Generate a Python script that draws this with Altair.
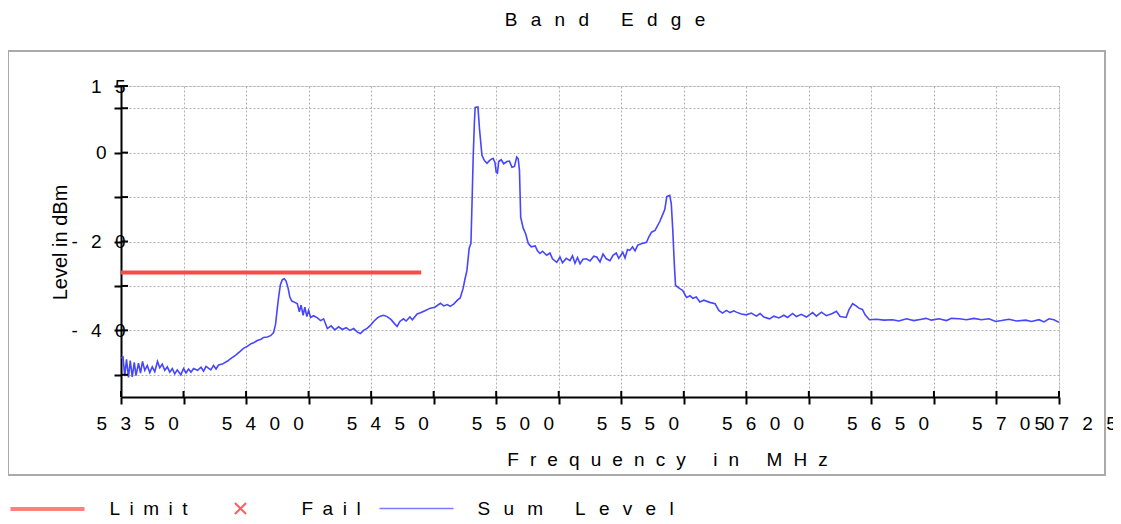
import altair as alt
import pandas as pd

# ---------------- data ----------------
freq = [
    5350.0, 5350.8, 5351.5, 5352.2, 5353.0, 5353.7, 5354.5, 5355.3, 5356.0, 5357.0,
    5357.8, 5358.6, 5359.5, 5360.5, 5361.5, 5362.5, 5363.5, 5364.6, 5365.5, 5366.5,
    5367.5, 5368.5, 5369.5, 5370.5, 5371.5, 5372.5, 5373.9, 5375.0, 5376.0, 5377.0,
    5378.0, 5379.0, 5380.6, 5382.0, 5383.0, 5384.0, 5385.9, 5387.0, 5388.0, 5389.0,
    5390.5, 5392.6, 5394.0, 5396.0, 5397.5, 5399.1, 5400.5, 5402.0, 5403.0, 5404.5,
    5406.0, 5407.0, 5408.5, 5409.8, 5411.0, 5411.8, 5412.5, 5413.0, 5413.7, 5414.5,
    5415.3, 5416.0, 5416.8, 5417.5, 5418.3, 5419.5, 5420.5, 5421.3, 5422.0, 5422.8,
    5423.5, 5424.3, 5425.0, 5425.8, 5427.0, 5428.5, 5429.8, 5431.0, 5432.5, 5434.0,
    5435.5, 5437.0, 5438.5, 5440.0, 5441.5, 5443.0, 5444.5, 5445.7, 5447.0, 5448.5,
    5449.7, 5451.0, 5452.5, 5453.7, 5455.0, 5456.4, 5458.0, 5459.5, 5460.4, 5461.5,
    5462.9, 5464.0, 5465.5, 5466.5, 5468.4, 5470.0, 5471.5, 5473.7, 5475.5, 5477.7,
    5479.0, 5480.5, 5481.6, 5483.0, 5484.5, 5485.6, 5486.8, 5487.5, 5488.3, 5489.2,
    5489.9, 5490.4, 5490.8, 5491.3, 5491.6, 5492.7, 5493.3, 5494.3, 5495.3, 5496.3,
    5497.3, 5498.2, 5498.8, 5499.5, 5500.0, 5500.5, 5501.0, 5502.0, 5503.0, 5504.3,
    5505.3, 5506.3, 5507.3, 5508.2, 5508.8, 5509.3, 5509.8, 5510.8, 5511.8, 5512.8,
    5514.0, 5515.6, 5516.5, 5517.5, 5518.5, 5520.2, 5521.5, 5522.5, 5524.2, 5525.5,
    5526.5, 5528.0, 5529.5, 5530.5, 5531.5, 5532.5, 5533.5, 5534.7, 5536.0, 5537.5,
    5539.0, 5540.2, 5541.5, 5542.7, 5544.0, 5545.5, 5546.7, 5548.0, 5549.0, 5550.6,
    5551.5, 5552.5, 5553.4, 5554.5, 5555.5, 5556.6, 5558.0, 5560.1, 5561.0, 5562.1,
    5563.5, 5565.4, 5566.5, 5567.4, 5568.2, 5569.4, 5570.0, 5570.6, 5571.2, 5571.7,
    5573.4, 5574.5, 5576.1, 5577.5, 5578.6, 5580.0, 5581.4, 5583.0, 5585.4, 5587.5,
    5589.0, 5590.5, 5592.0, 5593.5, 5595.0, 5596.0, 5598.0, 5600.0, 5602.0, 5604.0,
    5605.5, 5607.0, 5609.3, 5611.0, 5613.0, 5615.0, 5616.5, 5618.5, 5620.0, 5622.0,
    5624.0, 5626.5, 5628.0, 5630.0, 5632.0, 5634.4, 5636.0, 5637.5, 5639.9, 5641.0,
    5642.5, 5643.9, 5645.0, 5646.4, 5647.5, 5649.2, 5652.0, 5655.0, 5658.4, 5661.0,
    5664.0, 5667.0, 5670.0, 5671.8, 5674.0, 5677.0, 5680.0, 5682.0, 5685.1, 5688.0,
    5691.0, 5694.0, 5697.0, 5699.7, 5702.0, 5705.0, 5708.0, 5711.7, 5714.0, 5717.0,
    5719.0, 5721.0, 5723.0, 5725.0,
]
level = [
    -46.2, -46.0, -50.3, -46.5, -50.6, -46.8, -50.5, -47.2, -50.2, -47.4,
    -49.6, -47.0, -49.0, -47.9, -49.5, -48.2, -49.3, -47.0, -48.4, -47.6,
    -49.0, -48.2, -49.4, -48.6, -49.8, -48.9, -50.0, -48.6, -49.6, -48.7,
    -49.4, -48.6, -49.0, -48.3, -49.2, -48.1, -48.9, -47.9, -48.7, -47.8,
    -47.6, -46.9, -46.3, -45.5, -44.8, -44.0, -43.6, -43.0, -42.8, -42.3,
    -42.0, -41.6, -41.5, -41.2, -40.5, -38.6, -35.0, -32.6, -29.8, -28.6,
    -28.4, -28.9, -30.5, -32.5, -33.4, -33.7, -34.0, -35.8, -34.3, -36.6,
    -34.8, -36.9, -35.5, -37.1, -36.7, -37.2, -37.8, -37.4, -39.6, -39.0,
    -39.9, -39.2, -39.8, -39.4, -40.0, -39.6, -40.4, -40.7, -40.0, -39.5,
    -38.9, -38.0, -37.2, -36.8, -36.6, -36.9, -37.6, -38.6, -39.1, -38.0,
    -37.4, -37.9, -37.0, -37.6, -36.3, -36.0, -35.6, -35.0, -34.8, -33.9,
    -34.5, -34.2, -34.6, -34.1, -33.2, -32.7, -30.5, -28.5, -26.5, -21.5,
    -20.4, -10.0, -1.0, 7.0, 10.2, 10.3, 5.5, -0.6, -1.8, -2.4,
    -1.8, -1.4, -1.3, -2.2, -4.4, -4.6, -2.0, -1.6, -2.5, -2.0,
    -1.9, -3.3, -3.1, -1.0, -1.4, -4.0, -14.6, -17.0, -18.3, -20.4,
    -21.2, -21.0, -22.1, -22.7, -22.2, -23.1, -22.6, -23.9, -24.7, -23.5,
    -24.8, -23.8, -24.3, -23.2, -24.9, -23.6, -25.0, -24.0, -23.9, -24.4,
    -23.3, -23.5, -24.6, -22.8, -23.9, -24.3, -23.1, -22.6, -23.8, -22.4,
    -23.7, -21.8, -22.0, -21.2, -22.1, -20.8, -20.5, -20.2, -19.0, -17.9,
    -17.5, -15.5, -14.0, -12.8, -9.9, -9.6, -11.5, -17.5, -25.0, -29.9,
    -30.6, -31.0, -32.6, -32.2, -32.8, -32.5, -33.6, -33.2, -33.7, -34.0,
    -35.5, -36.1, -35.5, -36.0, -35.6, -35.9, -36.3, -36.5, -36.1, -36.8,
    -36.2, -37.0, -37.4, -36.8, -37.2, -36.6, -37.1, -36.2, -36.9, -36.4,
    -37.0, -36.0, -36.8, -35.9, -36.7, -36.2, -35.7, -36.9, -37.1, -35.4,
    -34.0, -34.5, -35.0, -35.3, -36.5, -37.6, -37.5, -37.7, -37.6, -37.9,
    -37.4, -37.8, -37.5, -37.3, -37.7, -37.4, -37.8, -37.3, -37.4, -37.6,
    -37.3, -37.6, -37.4, -38.0, -37.8, -37.5, -37.9, -37.7, -38.0, -37.6,
    -38.1, -37.4, -37.6, -38.2,
]
limit_freq = [5350, 5470]
limit_level = [-27.0, -27.0]

series_names = ["Limit", "Fail", "Sum Level"]
x_ticks = list(range(5350, 5726, 25))
x_label_values = [5350, 5400, 5450, 5500, 5550, 5600, 5650, 5700, 5725]
y_ticks = [15, 10, 0, -10, -20, -30, -40, -50]
y_label_values = [15, 0, -20, -40]

# ---------------- styling ----------------
FONT = "Liberation Sans"
FS = 19
SEP = "\u2002\u2009"
SEP_NARROW = "\u2002"
SEP_TITLE = "\u2002\u200a"
ZW = "\u200b"
LEAD = ZW + "\u2003\u2002\u2009"
RED = "#ff4848"
FAIL_RED = "#ff1a1a"
BLUE = "#4646ff"
W, H = 938, 311
CROSS = "M-0.15,-0.15L0.15,0.15M-0.15,0.15L0.15,-0.15"


def spaced(s, sep=SEP):
    return sep.join(list(s))


x_expr = " : ".join(
    f"datum.value == {v} ? '{LEAD + spaced(str(v))}'" for v in x_label_values
) + " : ''"


def ylab(v):
    if v == 0:
        return "0\u2003" + ZW
    return spaced(str(v))


y_expr = " : ".join(
    f"datum.value == {v} ? '{ylab(v)}'" for v in y_label_values
) + " : ''"

leg_text = {
    "Limit": spaced("Limit", SEP_NARROW),
    "Fail": spaced("Fail", SEP_NARROW),
    "Sum Level": spaced("Sum Level", SEP),
}
leg_expr = " : ".join(
    f"datum.label == '{n}' ? '{leg_text[n]}'" for n in series_names
) + " : datum.label"

sum_df = pd.DataFrame({"f": freq, "lv": level})
lim_df = pd.DataFrame({"f": limit_freq, "lv": limit_level})
xt_df = pd.DataFrame({"t": x_ticks})
yt_df = pd.DataFrame({"t": y_ticks})
leg_df = pd.DataFrame({"series": series_names, "f": [None] * 3, "lv": [None] * 3})
box_df = pd.DataFrame({"a": [0]})

xscale = alt.Scale(domain=[5350, 5725], nice=False, zero=False)
yscale = alt.Scale(domain=[-55, 15], nice=False, zero=False)

x_axis = alt.Axis(
    values=x_ticks, labelExpr=x_expr, title=spaced("Frequency in MHz", SEP_TITLE),
    grid=True, gridDash=[2, 2], gridColor="#b0b0b0", gridWidth=1,
    domainColor="black", domainWidth=2, tickColor="black", tickWidth=2, tickSize=7,
    labelFont=FONT, labelFontSize=FS, labelColor="black", labelAlign="center",
    labelPadding=10, labelOverlap=False, labelFlush=False, labelBound=False,
    titleFont=FONT, titleFontSize=FS, titleFontWeight="normal", titleColor="black",
    titleX=546, titleY=62, titleAlign="center", titleBaseline="middle",
)
y_axis = alt.Axis(
    values=y_ticks, labelExpr=y_expr, title="Level in dBm",
    grid=True, gridDash=[2, 2], gridColor="#b0b0b0", gridWidth=1,
    domainColor="black", domainWidth=2, tickColor="black", tickWidth=2, tickSize=7,
    labelFont=FONT, labelFontSize=FS, labelColor="black", labelPadding=-11,
    labelOverlap=False, labelFlush=False, labelBound=False,
    titleFont=FONT, titleFontSize=20, titleFontWeight="normal", titleColor="black",
    titleX=-61, titleY=156, titleAlign="center", titleBaseline="middle", titleAngle=270,
)

box = alt.Chart(box_df).mark_rect(
    fillOpacity=0, stroke="#aaaaaa", strokeWidth=2
).encode(
    x=alt.value(-113), x2=alt.value(984), y=alt.value(-35), y2=alt.value(389)
)

sum_line = alt.Chart(sum_df).mark_line(color=BLUE, strokeWidth=1.6).encode(
    x=alt.X("f:Q", scale=xscale, axis=x_axis),
    y=alt.Y("lv:Q", scale=yscale, axis=y_axis),
)
lim_line = alt.Chart(lim_df).mark_line(color=RED, strokeWidth=4).encode(
    x=alt.X("f:Q", scale=xscale), y=alt.Y("lv:Q", scale=yscale)
)
x_inner = alt.Chart(xt_df).mark_rule(color="black", strokeWidth=2).encode(
    x=alt.X("t:Q", scale=xscale), y=alt.value(H - 6), y2=alt.value(H)
)
y_inner = alt.Chart(yt_df).mark_rule(color="black", strokeWidth=2).encode(
    y=alt.Y("t:Q", scale=yscale), x=alt.value(0), x2=alt.value(7)
)

leg = alt.Legend(
    title=None, orient="none", legendX=-112.5, legendY=384, direction="horizontal",
    labelExpr=leg_expr, labelFont=FONT, labelFontSize=FS, labelColor="black", labelLimit=600,
    labelOffset=23, columnPadding=14, padding=0, rowPadding=0,
    symbolSize=5476, symbolFillColor="transparent",
)
legend_layer = alt.Chart(leg_df).mark_point(filled=False).encode(
    x=alt.X("f:Q", scale=xscale),
    y=alt.Y("lv:Q", scale=yscale),
    color=alt.Color("series:N", scale=alt.Scale(domain=series_names, range=[RED, FAIL_RED, BLUE]), legend=leg),
    shape=alt.Shape("series:N", scale=alt.Scale(domain=series_names, range=["stroke", CROSS, "stroke"]), legend=leg),
    strokeWidth=alt.StrokeWidth("series:N", scale=alt.Scale(type="ordinal", domain=series_names, range=[4, 2, 1.6]), legend=leg),
)

chart = alt.layer(box, lim_line, sum_line, x_inner, y_inner, legend_layer).properties(
    width=W, height=H,
    padding={"left": 113, "top": 78, "right": 54, "bottom": 119},
    autosize=alt.AutoSizeParams(type="none"),
    title=alt.TitleParams(spaced("Band Edge"), font=FONT, fontSize=FS, fontWeight="normal",
                          color="black", anchor="middle", dx=15, offset=20),
).configure_view(stroke=None).configure(background="white")

chart.save("out.html", embed_options={"renderer": "svg", "actions": False})
